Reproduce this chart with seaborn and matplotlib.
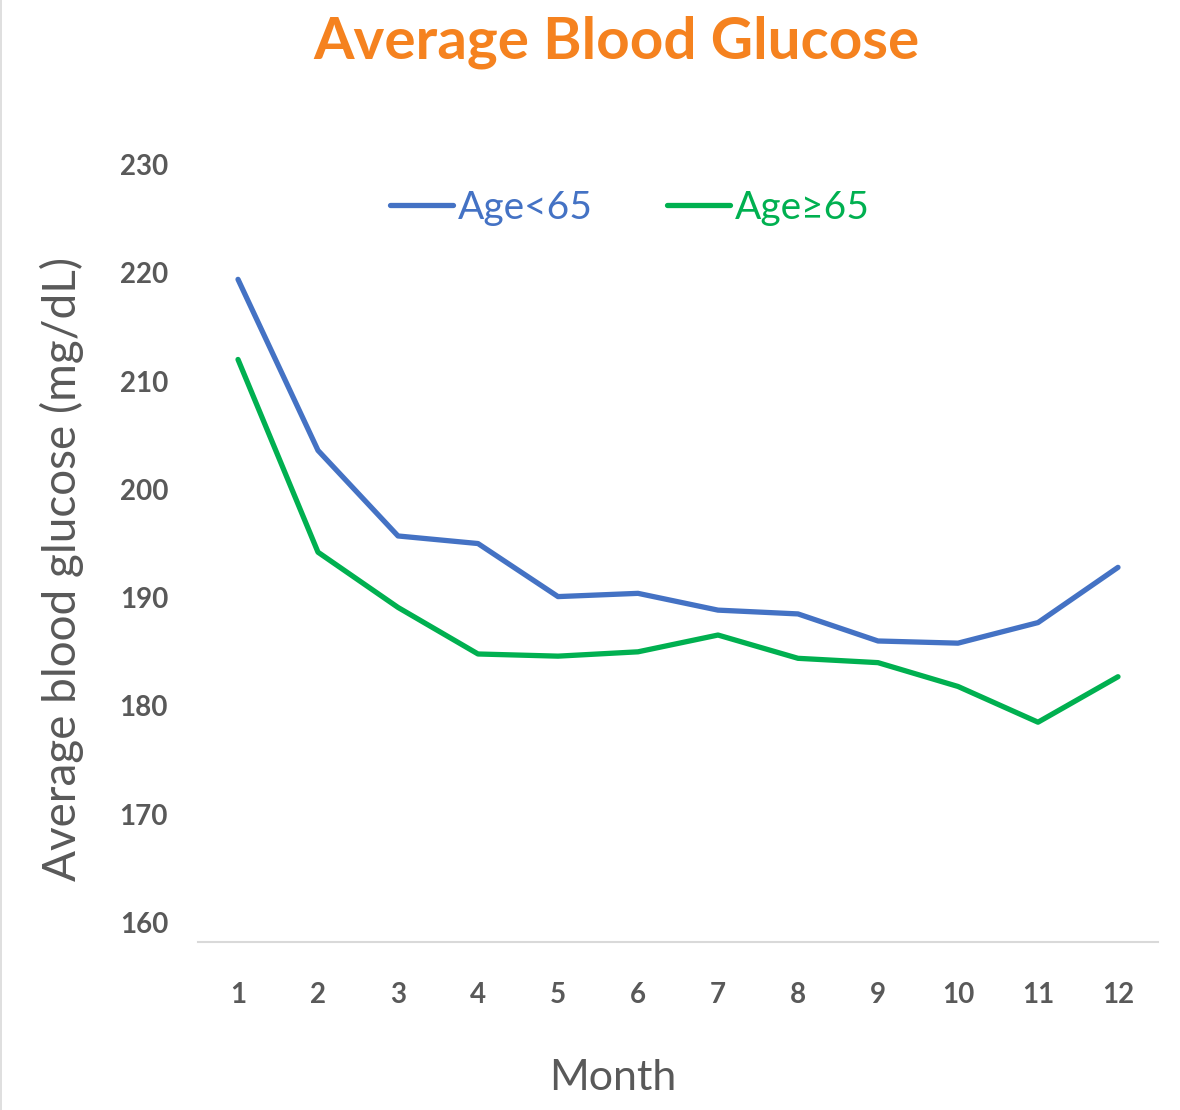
import matplotlib
matplotlib.use("Agg")
import matplotlib.pyplot as plt
import matplotlib.lines as mlines
import seaborn as sns
import pandas as pd

months = list(range(1, 13))
age_under_65 = [219.4, 203.6, 195.7, 195.0, 190.1, 190.4, 188.85, 188.5, 186.0, 185.8, 187.7, 192.8]
age_65_plus = [212.0, 194.2, 189.1, 184.8, 184.6, 185.0, 186.55, 184.4, 184.0, 181.8, 178.5, 182.7]
series_names = ["Age<65", "Age\u226565"]
y_ticks = [160, 170, 180, 190, 200, 210, 220, 230]

df = pd.DataFrame({
    "Month": months * 2,
    "Glucose": age_under_65 + age_65_plus,
    "Group": [series_names[0]] * 12 + [series_names[1]] * 12,
})

sns.set_theme(style="white")
plt.rcParams["font.family"] = ["Lato", "DejaVu Sans"]

W, H = 1180, 1110
fig = plt.figure(figsize=(W / 100, H / 100), dpi=100)
ax = fig.add_axes([198 / W, 1 - 942 / H, 960 / W, (942 - 144) / H])

palette = {series_names[0]: "#4472C4", series_names[1]: "#00B050"}
sns.lineplot(data=df, x="Month", y="Glucose", hue="Group", palette=palette,
             linewidth=3.8, ax=ax, legend=True, solid_capstyle="round")

ax.set_xlim(0.5, 12.5)
ax.set_ylim(158.2, 231.9)
ax.set_xticks(months)
ax.set_yticks(y_ticks)
gray = "#595959"
for lab in ax.get_xticklabels() + ax.get_yticklabels():
    lab.set_fontweight("bold")
    lab.set_color(gray)
    lab.set_fontsize(20)
ax.tick_params(axis="y", length=0, pad=21.5)
ax.tick_params(axis="x", length=0, pad=29)

for s in ["top", "right", "left"]:
    ax.spines[s].set_visible(False)
ax.spines["bottom"].set_color("#D9D9D9")
ax.spines["bottom"].set_linewidth(1.5)
ax.grid(False)

ax.set_ylabel("")
ax.set_xlabel("")
fig.text(62 / W, 1 - 569 / H, "Average blood glucose (mg/dL)", rotation=90,
         ha="center", va="center", fontsize=33, color=gray)
fig.text(613 / W, 1 - 1078 / H, "Month", ha="center", va="center",
         fontsize=31, color=gray)

leg = ax.legend(loc="center left", bbox_to_anchor=(390 / W, 1 - 208 / H),
                bbox_transform=fig.transFigure, ncol=2, frameon=False,
                fontsize=28, labelcolor="linecolor", handlelength=1.62,
                handletextpad=0.13, columnspacing=1.9, borderpad=0, borderaxespad=0)
for line in leg.get_lines():
    line.set_linewidth(3.8)
    line.set_solid_capstyle("round")

fig.text(616 / W, 1 - 42 / H, "Average Blood Glucose", ha="center", va="center",
         fontsize=42, fontweight="bold", color="#F5821F")

fig.add_artist(mlines.Line2D([0.8 / W, 0.8 / W], [0, 1], transform=fig.transFigure,
                             color="#D9D9D9", linewidth=1.2))

fig.savefig("out.png", dpi=100, facecolor="white")
